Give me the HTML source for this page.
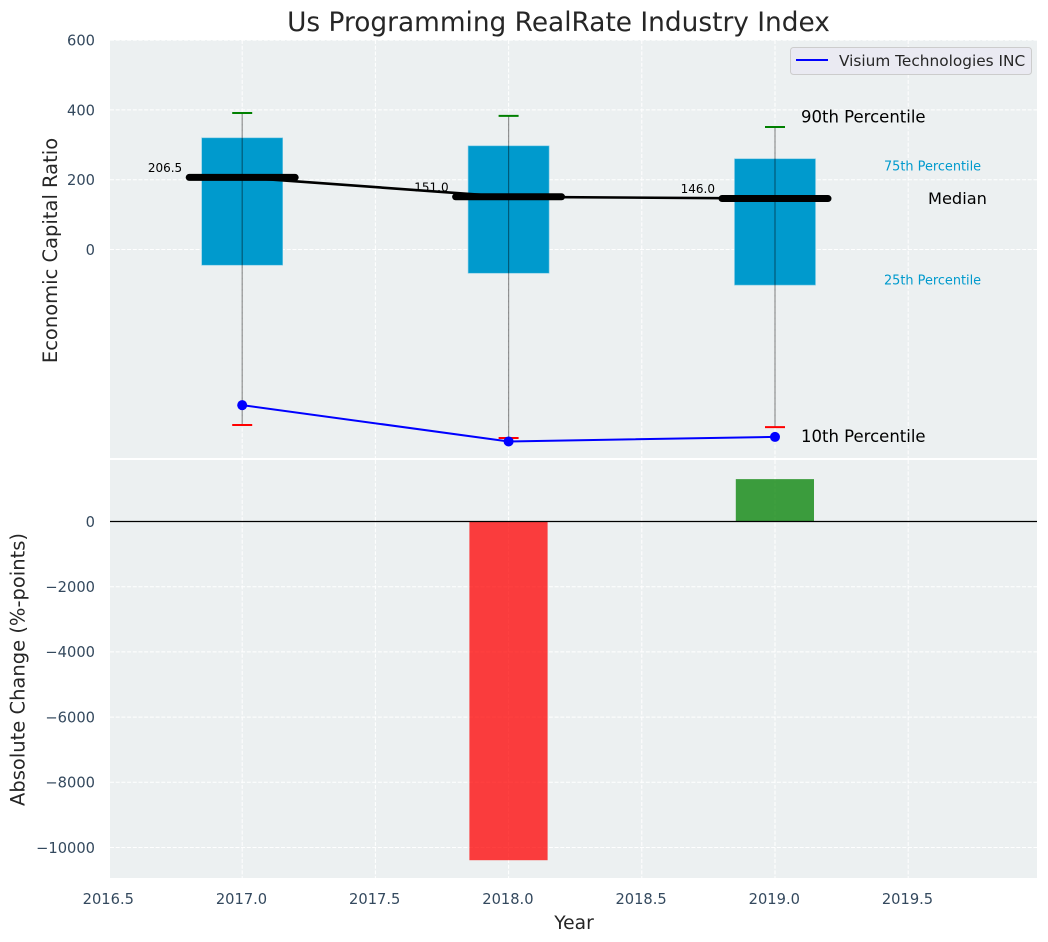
<!DOCTYPE html>
<html lang="en">
<head>
<meta charset="utf-8">
<title>Us Programming RealRate Industry Index</title>
<style>
html,body{margin:0;padding:0;background:#fff;}
svg{display:block;font-family:"DejaVu Sans","Liberation Sans",sans-serif;}
</style>
</head>
<body>
<svg id="chart" xmlns="http://www.w3.org/2000/svg" width="1048" height="942" viewBox="0 0 1048 942">
  <rect x="0" y="0" width="1048" height="942" fill="#ffffff"/>
  <rect x="110" y="40" width="927" height="418" fill="#ecf0f1"/>
  <rect x="110" y="460" width="927" height="418" fill="#ecf0f1"/>
  <g id="grid"></g>
  <g id="bottom-marks"></g>
  <g id="top-marks"></g>
  <g id="ticks"></g>
  <text x="558.5" y="31" text-anchor="middle" font-size="26.38" fill="#262626">Us Programming RealRate Industry Index</text>
  <text transform="translate(57,250.5) rotate(-90)" text-anchor="middle" font-size="19.5" fill="#262626">Economic Capital Ratio</text>
  <text transform="translate(24.5,669.5) rotate(-90)" text-anchor="middle" font-size="19.5" fill="#262626">Absolute Change (%-points)</text>
  <text x="574" y="929" text-anchor="middle" font-size="18.67" fill="#262626">Year</text>
  <g id="legend">
    <rect x="790.5" y="47.5" width="241" height="27" rx="3" fill="#eaeaf2" stroke="#cccccc" stroke-width="1"/>
    <line x1="796" y1="60" x2="828" y2="60" stroke="#0000ff" stroke-width="2"/>
    <text x="839" y="66" font-size="15.33" fill="#262626">Visium Technologies INC</text>
  </g>
</svg>
<script>
const years = [2017, 2018, 2019];
const p90 = [391, 383, 351];
const p75 = [320, 297, 260];
const medians = [206.5, 151.0, 146.0];
const medianLabels = ['206.5', '151.0', '146.0'];
const p25 = [-45, -68, -102];
const p10 = [-503, -540, -509];
const company = [-446, -550, -537];
const changes = [0, -10390, 1300];
const xTicks = [2016.5, 2017, 2017.5, 2018, 2018.5, 2019, 2019.5];
const xTickLabels = ['2016.5', '2017.0', '2017.5', '2018.0', '2018.5', '2019.0', '2019.5'];
const topYTicks = [600, 400, 200, 0];
const bottomYTicks = [0, -2000, -4000, -6000, -8000, -10000];
const bottomYTickLabels = ['0', '\u22122000', '\u22124000', '\u22126000', '\u22128000', '\u221210000'];

const NS = 'http://www.w3.org/2000/svg';
const x = v => 242.2 + (v - 2017) * 266.4;
const yTop = v => 249.5 - v * 0.349;
const yBottom = v => 521.5 - v * 0.0326;
const gridG = document.getElementById('grid');
const topG = document.getElementById('top-marks');
const bottomG = document.getElementById('bottom-marks');
const tickG = document.getElementById('ticks');
const TICK = '#34495e';

function mk(tag, parent, attrs, text) {
  const n = document.createElementNS(NS, tag);
  for (const k in attrs) n.setAttribute(k, attrs[k]);
  if (text !== undefined) n.textContent = text;
  parent.appendChild(n);
  return n;
}
const gridStyle = {stroke: '#ffffff', 'stroke-width': 1, 'stroke-dasharray': '4 1.7'};

xTicks.forEach((t, i) => {
  if (t >= 2016.6) {
    const a = mk('line', gridG, Object.assign({x1: x(t), x2: x(t), y1: 40, y2: 458}, gridStyle));
    
    
    const b = mk('line', gridG, Object.assign({x1: x(t), x2: x(t), y1: 460, y2: 878}, gridStyle));
    
    
  }
  const el = mk('text', tickG, {x: x(t) - 0.7, y: 904, 'text-anchor': 'middle', 'font-size': 14.67, fill: TICK}, xTickLabels[i]);
  
  
});
topYTicks.forEach(t => {
  const g = mk('line', gridG, Object.assign({x1: 110, x2: 1037, y1: yTop(t), y2: yTop(t)}, gridStyle));
  
  
  const el = mk('text', tickG, {x: 95, y: yTop(t) + 5.5, 'text-anchor': 'end', 'font-size': 14.67, fill: TICK}, String(t));
  
  
});
bottomYTicks.forEach((t, i) => {
  const g = mk('line', gridG, Object.assign({x1: 110, x2: 1037, y1: yBottom(t), y2: yBottom(t)}, gridStyle));
  
  
  const el = mk('text', tickG, {x: 95, y: yBottom(t) + 5.3, 'text-anchor': 'end', 'font-size': 14.67, fill: TICK}, bottomYTickLabels[i]);
  
  
});

/* change bars */
years.forEach((yr, i) => {
  if (!changes[i]) return;
  const y0 = yBottom(0), y1 = yBottom(changes[i]);
  const bar = mk('rect', bottomG, {
    x: x(yr) - 39.2, width: 78.2,
    y: Math.min(y0, y1), height: Math.abs(y1 - y0),
    fill: changes[i] < 0 ? '#ff0000' : '#008000', 'fill-opacity': 0.75
  });
  
  
});
const zero = mk('line', bottomG, {x1: 110, x2: 1037, y1: yBottom(0), y2: yBottom(0), stroke: '#000000', 'stroke-width': 1.2});



/* boxes */
years.forEach((yr, i) => {
  const box = mk('rect', topG, {
    x: x(yr) - 40.5, width: 81,
    y: yTop(p75[i]), height: yTop(p25[i]) - yTop(p75[i]),
    fill: '#009acd', stroke: '#7fcbe6', 'stroke-width': 0.6
  });
  
  
  const w = mk('line', topG, {x1: x(yr), x2: x(yr), y1: yTop(p90[i]), y2: yTop(p10[i]), stroke: '#000000', 'stroke-opacity': 0.42, 'stroke-width': 1.2});
  
  
  const hi = mk('line', topG, {x1: x(yr) - 10, x2: x(yr) + 10, y1: yTop(p90[i]), y2: yTop(p90[i]), stroke: '#008000', 'stroke-width': 2});
  
  
  const lo = mk('line', topG, {x1: x(yr) - 10, x2: x(yr) + 10, y1: yTop(p10[i]), y2: yTop(p10[i]), stroke: '#ff0000', 'stroke-width': 2});
  
  
});

/* median connector */
const medLine = mk('polyline', topG, {
  points: years.map((yr, i) => x(yr) + ',' + yTop(medians[i])).join(' '),
  fill: 'none', stroke: '#000000', 'stroke-width': 2.6
});


years.forEach((yr, i) => {
  const m = mk('line', topG, {
    x1: x(yr) - 53, x2: x(yr) + 53, y1: yTop(medians[i]), y2: yTop(medians[i]),
    stroke: '#000000', 'stroke-width': 7, 'stroke-linecap': 'round'
  });
  
  
  const t = mk('text', topG, {
    x: x(yr) - 60, y: yTop(medians[i]) - 5.5, 'text-anchor': 'end', 'font-size': 12, fill: '#000000'
  }, medianLabels[i]);
  
  
});

/* company series */
const coLine = mk('polyline', topG, {
  points: years.map((yr, i) => x(yr) + ',' + yTop(company[i])).join(' '),
  fill: 'none', stroke: '#0000ff', 'stroke-width': 2
});


years.forEach((yr, i) => {
  const c = mk('circle', topG, {cx: x(yr), cy: yTop(company[i]), r: 5, fill: '#0000ff'});
  
  
});

/* annotations anchored to the last year */
const last = years.length - 1;
const lx = x(years[last]);
const a90 = mk('text', topG, {x: lx + 26, y: yTop(p90[last]) - 4.5, 'font-size': 16.5, fill: '#000000'}, '90th Percentile');


const a10 = mk('text', topG, {x: lx + 26, y: yTop(company[last]) + 5, 'font-size': 16.5, fill: '#000000'}, '10th Percentile');


const aMed = mk('text', topG, {x: lx + 153, y: yTop(medians[last]) + 5.5, 'font-size': 16.2, fill: '#000000'}, 'Median');


const a75 = mk('text', topG, {x: lx + 109, y: yTop(p75[last]) + 11.5, 'font-size': 12.87, fill: '#009acd'}, '75th Percentile');


const a25 = mk('text', topG, {x: lx + 109, y: yTop(p25[last]) - 0.8, 'font-size': 12.87, fill: '#009acd'}, '25th Percentile');


</script>
</body>
</html>
